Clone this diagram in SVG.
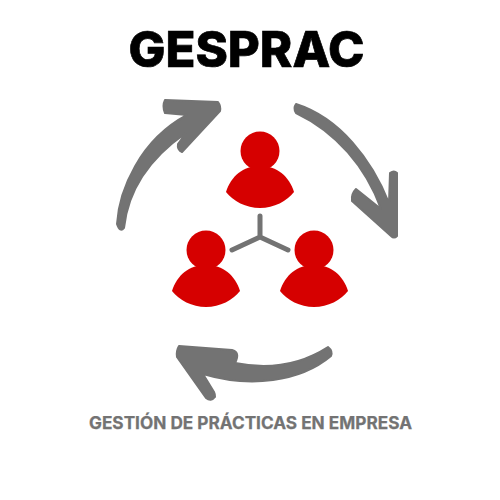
<svg xmlns="http://www.w3.org/2000/svg" width="500" height="500" viewBox="0 0 500 500">
<style>
.arrow{fill:#737373;stroke:#737373;stroke-width:2;stroke-linecap:round;stroke-linejoin:round}
.hub{fill:none;stroke:#737373;stroke-width:5;stroke-linecap:round;stroke-linejoin:round}
.person{fill:#d60000}
.title{font-family:"Inter","Liberation Sans",sans-serif;font-weight:800;fill:#000;stroke:#000;stroke-width:.7}
.cap{font-family:"Inter","Liberation Sans",sans-serif;font-weight:700;fill:#737373;stroke:#737373;stroke-width:.25}
</style>
<rect width="500" height="500" fill="#fff"/>
<text class="title" x="246.500" y="67" font-size="50" text-anchor="middle" textLength="236" lengthAdjust="spacingAndGlyphs">GESPRAC</text>
<g id="connectors">
<path class="arrow" d="M117 224C119 190 140 140 187 115L165 113Q162 106 165 100L218 102Q221 106 220 111L182 152Q177 150 178 144L186 133C150 158 128 190 124 228Q120 233 117 224Z"/>
<path class="arrow" d="M296 104C340 118 372 160 389 203L390 173Q394 170 397 173L397 236Q394 239 391 236L352 201Q351 194 356 189L381 209C366 167 336 132 296 113Q293 108 296 104Z"/>
<path class="arrow" d="M328 347C300 365 270 370 235 363Q238 357 237 354Q236 351 232 350L179 346Q176 351 177 357L206 398Q211 402 215 397Q215 394 214 392L203 374C250 388 300 382 331 356Q333 351 328 347Z"/>
<path class="hub" d="M260 216V237M260 237L232 250M260 237L288 250"/>
</g>
<defs>
<g id="p"><circle cx="0" cy="0" r="19.5"/><path d="M-34 41C-29 25 -17 15 0 15C17 15 29 25 34 41C27 50 14 57 0 57C-14 57 -27 50 -34 41Z"/></g>
</defs>
<g id="person-top" class="person"><use href="#p" x="260" y="151"/></g>
<g id="person-left" class="person"><use href="#p" x="206" y="250"/></g>
<g id="person-right" class="person"><use href="#p" x="314" y="250"/></g>
<text class="cap" x="250.500" y="429" font-size="17" text-anchor="middle" textLength="323" lengthAdjust="spacingAndGlyphs">GESTIÓN DE PRÁCTICAS EN EMPRESA</text>
</svg>
